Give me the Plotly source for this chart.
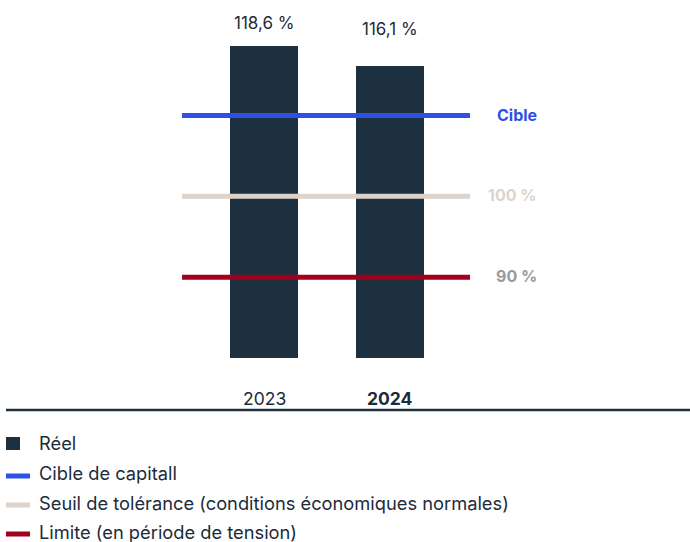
import plotly.graph_objects as go

# Solvency ratio data
years = ["2023", "2024"]
ratios = [118.6, 116.1]
year_labels = ["2023", "<b>2024</b>"]

# Reference thresholds
target_ratio = 110
tolerance_ratio = 100
limit_ratio = 90
threshold_labels = ["Cible", "100 %", "90 %"]

legend_labels = [
    "Réel",
    "Cible de capitall",
    "Seuil de tolérance (conditions économiques normales)",
    "Limite (en période de tension)",
]

NAVY = "#1c3040"
BLUE = "#2d50e6"
BEIGE = "#ddd3cb"
RED = "#a3001e"
GREY = "#9a9a9a"
TEXT = "#1c2b3a"
FONT = "Inter"

W, H = 690, 542
PLOT_BOTTOM = 358  # px from top where the plot area ends
Y_MIN, Y_MAX = 80, 124.3
X_PER_PX = 1 / 126.0
X0_PX = 264
LABEL_GAP = [11, 25]  # px between bar top and its value label

x_pos = list(range(len(years)))


def px_x(px):
    return px / W


def px_y(py):
    return (PLOT_BOTTOM - py) / PLOT_BOTTOM


fig = go.Figure()

fig.add_trace(go.Bar(
    x=x_pos, y=[r - Y_MIN for r in ratios], base=Y_MIN,
    width=68 * X_PER_PX, marker=dict(color=NAVY, line=dict(width=0)),
    hoverinfo="skip", showlegend=False,
))

shapes = []
annotations = []

# Threshold lines
for val, col in [(target_ratio, BLUE), (tolerance_ratio, BEIGE), (limit_ratio, RED)]:
    shapes.append(dict(type="line", xref="paper", yref="y",
                       x0=px_x(182), x1=px_x(470), y0=val, y1=val,
                       line=dict(color=col, width=5), layer="above"))

# Threshold labels on the right
for val, txt, col in zip([target_ratio, tolerance_ratio, limit_ratio],
                         threshold_labels, [BLUE, BEIGE, GREY]):
    annotations.append(dict(xref="paper", yref="y", x=px_x(539), y=val,
                            text=f"<b>{txt}</b>", showarrow=False,
                            xanchor="right", yanchor="middle", yshift=1,
                            font=dict(family=FONT, size=16, color=col)))

# Value labels above bars
for x, r, gap in zip(x_pos, ratios, LABEL_GAP):
    label = f"{r:.1f}".replace(".", ",") + " %"
    annotations.append(dict(xref="x", yref="y", x=x, y=r, text=label,
                            showarrow=False, yanchor="bottom", yshift=gap,
                            font=dict(family=FONT, size=17, color=TEXT)))

# Category labels
for x, t in zip(x_pos, year_labels):
    annotations.append(dict(xref="x", yref="paper", x=x, y=px_y(398), text=t,
                            showarrow=False, yanchor="middle",
                            font=dict(family=FONT, size=17.5, color=TEXT)))

# Baseline rule
shapes.append(dict(type="line", xref="paper", yref="paper",
                   x0=px_x(6), x1=1, y0=px_y(410), y1=px_y(410),
                   line=dict(color=NAVY, width=2.5)))

# Legend
shapes.append(dict(type="rect", xref="paper", yref="paper",
                   x0=px_x(6), x1=px_x(20), y0=px_y(437), y1=px_y(450),
                   fillcolor=NAVY, line=dict(width=0)))
for py, col in [(476, BLUE), (505, BEIGE), (534, RED)]:
    shapes.append(dict(type="rect", xref="paper", yref="paper",
                       x0=px_x(6), x1=px_x(30), y0=px_y(py - 2.5), y1=px_y(py + 2.5),
                       fillcolor=col, line=dict(width=0)))
for py, txt in zip([443, 473, 503, 532], legend_labels):
    annotations.append(dict(xref="paper", yref="paper", x=px_x(37), y=px_y(py),
                            text=txt, showarrow=False, xanchor="left",
                            yanchor="middle",
                            font=dict(family=FONT, size=18.3, color=TEXT)))

fig.update_layout(
    width=W, height=H,
    margin=dict(l=0, r=0, t=0, b=H - PLOT_BOTTOM, pad=0),
    paper_bgcolor="white", plot_bgcolor="white",
    xaxis=dict(range=[-X0_PX * X_PER_PX, (W - X0_PX) * X_PER_PX],
               visible=False, fixedrange=True),
    yaxis=dict(range=[Y_MIN, Y_MAX], visible=False, fixedrange=True),
    shapes=shapes, annotations=annotations, showlegend=False,
    bargap=0,
)

fig.write_html("out.html", config={"displayModeBar": False})
